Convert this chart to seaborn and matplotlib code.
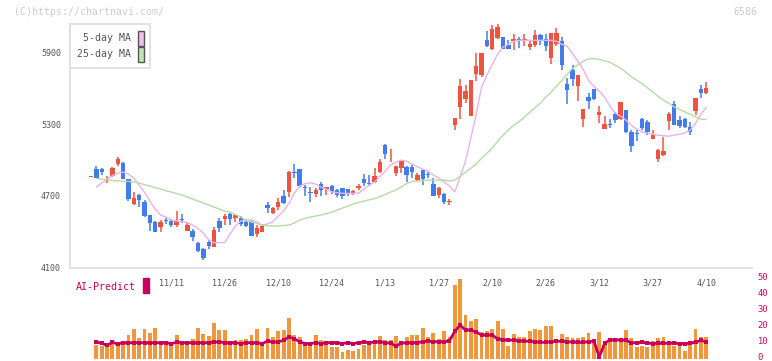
import numpy as np
import pandas as pd
import matplotlib
matplotlib.use("Agg")
import matplotlib.pyplot as plt
from matplotlib.patches import Patch, Rectangle
from matplotlib.transforms import ScaledTranslation
import seaborn as sns

# candle data (one row per trading day, oldest first)
opens = [4860, 4923, 4923, 4835, 4864, 4962, 4971, 4839, 4627, 4705,
         4649, 4538, 4477, 4440, 4492, 4490, 4454, 4504, 4404, 4404,
         4301, 4253, 4309, 4272, 4488, 4507, 4546, 4515, 4515, 4482,
         4482, 4376, 4393, 4621, 4552, 4607, 4699, 4733, 4895, 4923,
         4772, 4733, 4714, 4797, 4755, 4780, 4747, 4761, 4755, 4714,
         4761, 4839, 4805, 4812, 4900, 5124, 5046, 4892, 4929, 4942,
         4942, 4831, 4915, 4880, 4797, 4705, 4714, 4646, 5291, 5445,
         5515, 5369, 5724, 5710, 6003, 5928, 6026, 6031, 5961, 5997,
         6017, 5997, 5947, 5961, 6045, 6011, 5855, 5969, 5995, 5635,
         5752, 5620, 5342, 5528, 5599, 5375, 5258, 5300, 5389, 5342,
         5417, 5235, 5222, 5347, 5319, 5172, 5004, 5040, 5327, 5467,
         5333, 5342, 5277, 5411, 5593, 5562]
highs = [4866, 4951, 4934, 4868, 4942, 5026, 4979, 4839, 4733, 4711,
         4663, 4538, 4490, 4496, 4510, 4504, 4571, 4544, 4468, 4420,
         4309, 4259, 4329, 4435, 4515, 4546, 4552, 4546, 4532, 4496,
         4496, 4454, 4462, 4649, 4602, 4678, 4747, 4909, 4965, 4923,
         4789, 4770, 4761, 4817, 4775, 4789, 4753, 4761, 4755, 4747,
         4797, 4881, 4873, 4929, 5012, 5132, 5090, 4948, 4990, 4951,
         4956, 4887, 4923, 4900, 4845, 4775, 4720, 4669, 5352, 5682,
         5626, 5668, 5897, 5897, 6081, 6128, 6137, 6031, 6003, 6059,
         6031, 6055, 6003, 6092, 6059, 6053, 6064, 6106, 6031, 5691,
         5794, 5710, 5425, 5562, 5599, 5450, 5367, 5347, 5403, 5484,
         5417, 5249, 5249, 5352, 5333, 5249, 5096, 5193, 5403, 5495,
         5367, 5352, 5319, 5523, 5626, 5654]
lows = [4858, 4850, 4873, 4808, 4858, 4951, 4839, 4655, 4622, 4607,
        4524, 4406, 4393, 4398, 4462, 4435, 4440, 4468, 4404, 4323,
        4228, 4161, 4253, 4267, 4398, 4454, 4454, 4482, 4446, 4440,
        4365, 4356, 4393, 4557, 4546, 4580, 4627, 4691, 4850, 4775,
        4700, 4649, 4691, 4700, 4705, 4714, 4691, 4672, 4700, 4705,
        4747, 4783, 4783, 4803, 4887, 5012, 4979, 4867, 4887, 4817,
        4845, 4822, 4789, 4845, 4700, 4678, 4630, 4622, 5249, 5342,
        5478, 5369, 5662, 5696, 5947, 5919, 6017, 5928, 5928, 5919,
        5939, 5955, 5919, 5947, 5961, 5913, 5802, 5953, 5752, 5473,
        5620, 5495, 5277, 5425, 5500, 5311, 5258, 5269, 5311, 5333,
        5227, 5068, 5160, 5255, 5208, 5172, 4984, 5032, 5249, 5291,
        5272, 5269, 5208, 5375, 5520, 5551]
closes = [4864, 4850, 4900, 4840, 4934, 5012, 4839, 4672, 4682, 4663,
          4532, 4473, 4398, 4482, 4488, 4454, 4488, 4500, 4454, 4356,
          4236, 4180, 4281, 4412, 4432, 4532, 4502, 4538, 4462, 4448,
          4365, 4431, 4446, 4599, 4594, 4649, 4641, 4900, 4890, 4783,
          4768, 4720, 4747, 4747, 4775, 4733, 4705, 4700, 4725, 4741,
          4780, 4803, 4801, 4867, 4979, 5054, 5052, 4948, 4990, 4873,
          4900, 4873, 4839, 4876, 4700, 4761, 4649, 4652, 5352, 5619,
          5576, 5668, 5785, 5897, 5953, 6101, 6114, 5928, 5928, 6017,
          5997, 6017, 5969, 6045, 6003, 5955, 6064, 6064, 5794, 5584,
          5676, 5710, 5425, 5495, 5509, 5403, 5300, 5295, 5339, 5484,
          5235, 5118, 5215, 5269, 5235, 5208, 5082, 5074, 5383, 5291,
          5283, 5277, 5235, 5523, 5562, 5607]

# moving averages as plotted (first day has none)
ma5 = [np.nan, 4772, 4806, 4839, 4869, 4889, 4898, 4881, 4848, 4789,
       4730, 4655, 4588, 4538, 4521, 4496, 4488, 4482, 4475, 4454,
       4425, 4387, 4329, 4306, 4306, 4308, 4379, 4446, 4488, 4496,
       4496, 4479, 4454, 4463, 4482, 4530, 4571, 4638, 4722, 4781,
       4802, 4808, 4798, 4772, 4756, 4733, 4726, 4720, 4720, 4720,
       4722, 4756, 4789, 4814, 4864, 4906, 4957, 4982, 4998, 4990,
       4965, 4944, 4923, 4906, 4873, 4848, 4814, 4781, 4733, 4859,
       4990, 5183, 5384, 5612, 5710, 5802, 5886, 5947, 5970, 5995,
       6003, 6003, 6003, 6003, 6003, 6003, 6003, 5995, 5970, 5953,
       5894, 5827, 5760, 5668, 5618, 5576, 5526, 5451, 5392, 5367,
       5333, 5291, 5258, 5235, 5224, 5216, 5208, 5204, 5199, 5208,
       5216, 5227, 5250, 5308, 5384, 5440]
ma25 = [np.nan, 4845, 4839, 4835, 4827, 4825, 4823, 4820, 4817, 4806,
        4793, 4781, 4768, 4756, 4741, 4731, 4718, 4705, 4689, 4672,
        4655, 4638, 4622, 4605, 4588, 4571, 4563, 4542, 4521, 4496,
        4479, 4467, 4454, 4448, 4446, 4446, 4450, 4454, 4471, 4496,
        4510, 4521, 4530, 4538, 4551, 4563, 4580, 4597, 4613, 4630,
        4643, 4655, 4666, 4676, 4691, 4710, 4731, 4747, 4772, 4802,
        4818, 4823, 4827, 4831, 4831, 4831, 4831, 4823, 4831, 4864,
        4898, 4931, 4965, 5015, 5057, 5099, 5157, 5208, 5250, 5291,
        5321, 5358, 5400, 5438, 5476, 5526, 5568, 5618, 5668, 5718,
        5769, 5798, 5827, 5848, 5850, 5844, 5831, 5819, 5794, 5769,
        5735, 5696, 5668, 5641, 5605, 5570, 5534, 5501, 5476, 5445,
        5425, 5403, 5384, 5361, 5342, 5339]

# AI-Predict panel (from the 2nd day on)
ai_bars = [8.4, 7.8, 7.0, 9.5, 8.4, 9.5, 14.7, 18.4, 13.0, 18.4,
           16.1, 19.3, 11.1, 10.5, 9.5, 14.7, 10.5, 10.5, 12.2, 18.9,
           15.3, 14.1, 22.4, 17.8, 17.8, 10.5, 11.6, 11.6, 12.2, 14.7,
           18.4, 10.5, 19.1, 13.6, 17.4, 17.8, 25.5, 14.7, 13.2, 9.9,
           9.5, 14.7, 11.6, 9.9, 7.4, 7.4, 4.3, 5.3, 4.9, 5.7,
           8.4, 8.4, 9.1, 14.1, 11.6, 11.6, 14.1, 10.5, 13.2, 14.7,
           14.7, 18.9, 13.2, 16.1, 12.0, 17.2, 13.2, 45.9, 49.5, 27.2,
           23.4, 24.7, 16.6, 17.2, 18.4, 23.4, 18.4, 7.8, 15.3, 13.2,
           13.2, 17.2, 18.4, 17.8, 20.3, 20.3, 11.6, 15.3, 13.2, 12.6,
           12.6, 13.6, 16.1, 10.9, 16.6, 8.4, 11.1, 11.1, 10.9, 17.8,
           12.6, 7.4, 7.8, 7.4, 10.9, 12.6, 13.2, 10.9, 7.8, 7.8,
           4.9, 9.5, 18.4, 13.2, 13.2]
ai_line = [10.3, 9.5, 8.2, 10.1, 9.1, 9.9, 9.9, 9.9, 9.9, 9.9,
           9.9, 9.9, 9.9, 9.9, 9.3, 10.1, 9.9, 9.9, 9.9, 9.9,
           9.9, 9.9, 10.3, 10.3, 9.9, 9.9, 9.9, 9.3, 9.9, 9.9,
           9.9, 9.3, 10.9, 10.1, 10.5, 11.3, 13.5, 12.3, 10.5, 9.3,
           9.3, 9.9, 9.3, 9.9, 9.9, 9.9, 9.3, 9.9, 9.3, 9.9,
           10.3, 9.9, 10.3, 10.5, 9.9, 9.5, 7.8, 9.5, 9.9, 9.9,
           9.9, 10.5, 10.9, 10.5, 10.5, 10.5, 11.0, 17.0, 20.8, 17.8,
           17.8, 16.5, 14.7, 14.7, 14.7, 12.2, 11.6, 11.6, 11.3, 11.1,
           10.9, 10.7, 10.5, 10.1, 10.1, 10.5, 10.7, 10.9, 10.5, 10.3,
           10.1, 10.1, 10.5, 10.9, 1.0, 9.5, 11.6, 11.6, 11.6, 11.3,
           9.9, 9.9, 10.1, 9.7, 9.3, 9.5, 9.5, 9.5, 9.5, 9.3,
           9.3, 9.5, 10.3, 11.3, 10.5]

date_labels = ["11/11", "11/26", "12/10", "12/24", "1/13", "1/27",
               "2/10", "2/26", "3/12", "3/27", "4/10"]
date_pos = [15, 25, 35, 45, 55, 65, 75, 85, 95, 105, 115]
price_ticks = [4100, 4700, 5300, 5900]
ai_ticks = [0, 10, 20, 30, 40, 50]

df = pd.DataFrame({"open": opens, "high": highs, "low": lows,
                   "close": closes, "ma5": ma5, "ma25": ma25})
df["idx"] = np.arange(len(df))
ai = pd.DataFrame({"idx": np.arange(1, len(df)), "bar": ai_bars, "line": ai_line})

UP = "#ef5340"
DOWN = "#407ceb"
AXC = "#e2e2e2"
MAGENTA = "#c8005a"

sns.set_style("white")
plt.rcParams["font.family"] = ["DejaVu Sans Mono"]

fig = plt.figure(figsize=(7.72, 3.61), dpi=100)
ax = fig.add_axes([70 / 772, 93 / 361, 682 / 772, 244 / 361])
ax2 = fig.add_axes([70 / 772, 2.5 / 361, 682 / 772, 80 / 361])

xlim = (-3.93, 123.55)

# candles
up = df["close"] >= df["open"]
colors = np.where(up, UP, DOWN)
body_lo = np.minimum(df["open"], df["close"])
body_h = np.maximum((df["close"] - df["open"]).abs(), 7)
ax.vlines(df["idx"], df["low"], df["high"], colors=colors, lw=1.1, zorder=2)
ax.bar(df["idx"], body_h, bottom=body_lo, width=0.82, color=colors,
       linewidth=0, zorder=3)

sns.lineplot(data=df, x="idx", y="ma5", ax=ax, color="#e8b2ec", lw=1.0, zorder=4)
sns.lineplot(data=df, x="idx", y="ma25", ax=ax, color="#b5dca5", lw=1.0, zorder=4)

ax.set_xlim(*xlim)
ax.set_ylim(4094, 6140)
ax.set_yticks(price_ticks)
ax.set_yticklabels([str(t) for t in price_ticks], fontsize=6, color="#555555")
ax.set_xticks(date_pos)
ax.set_xticklabels(date_labels, fontsize=6, color="#555555")
ax.set_xticks(np.linspace(xlim[0], xlim[1], 12), minor=True)
ax.tick_params(axis="x", which="major", length=0, pad=7.5)
ax.tick_params(axis="x", which="minor", direction="inout", length=7,
               width=1.2, color=AXC)
ax.tick_params(axis="y", direction="inout", length=7, width=1.2, color=AXC, pad=3)
ax.set_xlabel("")
ax.set_ylabel("")
for s in ["top", "right"]:
    ax.spines[s].set_visible(False)
for s in ["left", "bottom"]:
    ax.spines[s].set_color(AXC)
    ax.spines[s].set_linewidth(1.5)

handles = [Patch(facecolor="#f0bdf0", edgecolor="#555555", lw=1.0),
           Patch(facecolor="#c2e2b4", edgecolor="#555555", lw=1.0)]
leg = ax.legend(handles, ["5-day MA", "25-day MA"], loc="upper left",
                bbox_to_anchor=(0, 1), borderaxespad=0, fancybox=False,
                edgecolor="#dddddd", markerfirst=False, fontsize=7.1,
                handlelength=0.6, handleheight=1.95, handletextpad=0.7,
                labelspacing=0.1, borderpad=0.68, framealpha=1)
for t in leg.get_texts():
    t.set_color("#555555")
leg.get_frame().set_linewidth(1.2)

# AI-Predict panel
ax2.bar(ai["idx"], ai["bar"], width=0.72, color="#f0963c", linewidth=0, zorder=2)
sns.lineplot(data=ai, x="idx", y="line", ax=ax2, color=MAGENTA, lw=2.0,
             marker="s", markersize=2.6, markeredgewidth=0, zorder=3)
ax2.set_xlim(*xlim)
ax2.set_ylim(0, 50)
ax2.set_xticks([])
ax2.yaxis.tick_right()
ax2.set_yticks(ai_ticks)
ax2.set_yticklabels([str(t) for t in ai_ticks], fontsize=6.3, color=MAGENTA)
ax2.tick_params(axis="y", length=0, pad=4)
lift = ScaledTranslation(0, 1.5 / 100, fig.dpi_scale_trans)
for lab in ax2.get_yticklabels():
    lab.set_transform(lab.get_transform() + lift)
ax2.set_xlabel("")
ax2.set_ylabel("")
for s in ax2.spines.values():
    s.set_visible(False)
ax2.patch.set_alpha(0)

fig.text(76 / 772, 1 - 287 / 361, "AI-Predict", fontsize=7.2, color=MAGENTA,
         va="center", ha="left")
fig.patches.append(Rectangle((142.5 / 772, 1 - 293 / 361), 6 / 772, 15.5 / 361,
                             transform=fig.transFigure, color=MAGENTA))

fig.text(14 / 772, 1 - 12 / 361, "(C)https://chartnavi.com/", fontsize=7.1,
         color="#cccccc", va="center", ha="left")
fig.text(757 / 772, 1 - 12 / 361, "6586", fontsize=7.1, color="#cccccc",
         va="center", ha="right")

fig.savefig("out.png", dpi=100)
